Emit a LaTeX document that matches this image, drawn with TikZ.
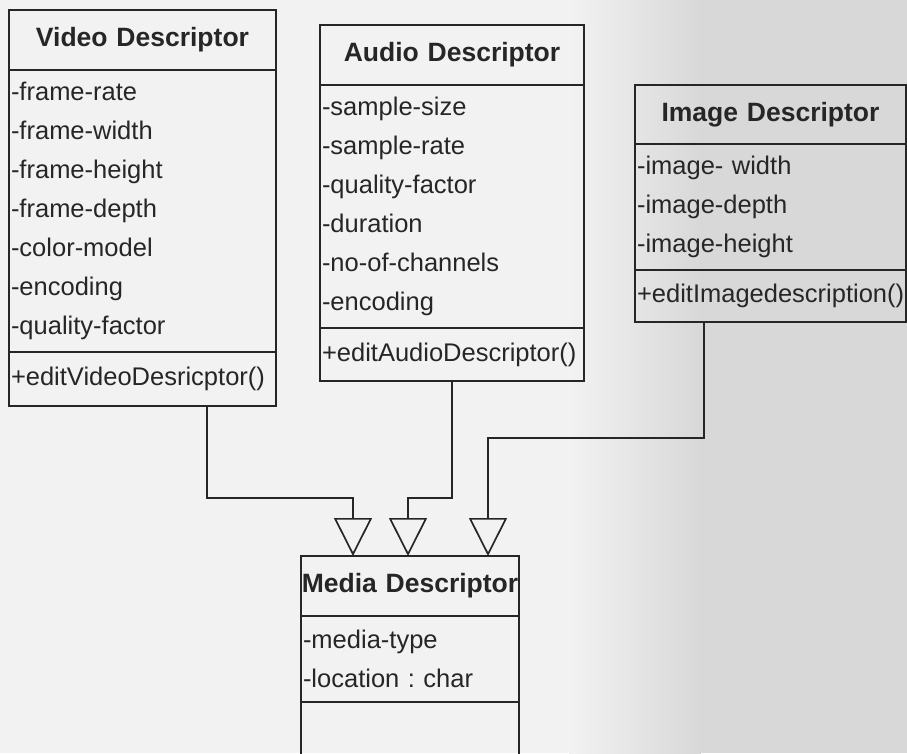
\documentclass[tikz,border=0pt]{standalone}
\usepackage{fontspec}
\setmainfont{Liberation Sans}
\frenchspacing
\hyphenpenalty=10000
\usetikzlibrary{positioning,arrows.meta}
\definecolor{ink}{HTML}{262626}
\definecolor{paperleft}{HTML}{F2F2F2}
\definecolor{paperright}{HTML}{D8D8D8}
\tikzset{
  part/.style={draw=ink, line width=1.7pt, text=ink, inner xsep=2pt, inner ysep=0pt, outer sep=0pt, anchor=north west},
  head/.style={part, align=center, font=\fontsize{26.5}{30}\selectfont\bfseries},
  list/.style={part, align=left, font=\fontsize{25.5}{39.1}\selectfont},
  inherit/.style={draw=ink, line width=1.7pt, -{Triangle[open, length=38pt, width=38pt]}}
}
\begin{document}
\begin{tikzpicture}[x=1pt, y=-1pt]
    % Paper
    \useasboundingbox (0,0) rectangle (907,753);
    \fill[paperleft] (0,0) rectangle (570,753);
    \shade[left color=paperleft, right color=paperright] (569,0) rectangle (701,753);
    \fill[paperright] (700,0) rectangle (907,753);

    % Video Descriptor
    \node[head, text width=263pt, minimum height=60pt] (vtitle) at (9,10) {Video Descriptor};
    \node[list, text width=263pt, minimum height=282pt, below=0pt of vtitle] (vattr)
        {-frame-rate\\-frame-width\\-frame-height\\-frame-depth\\-color-model\\-encoding\\-quality-factor};
    \node[list, text width=263pt, minimum height=54pt, below=0pt of vattr] (vmeth) {+editVideoDesricptor()};

    % Audio Descriptor
    \node[head, text width=260pt, minimum height=60pt] (atitle) at (320,25) {Audio Descriptor};
    \node[list, text width=260pt, minimum height=243pt, below=0pt of atitle] (aattr)
        {-sample-size\\-sample-rate\\-quality-factor\\-duration\\-no-of-channels\\-encoding};
    \node[list, text width=260pt, minimum height=53pt, below=0pt of aattr] (ameth) {+editAudioDescriptor()};

    % Image Descriptor
    \node[head, text width=267pt, minimum height=59pt] (ititle) at (635,85) {Image Descriptor};
    \node[list, text width=267pt, minimum height=126pt, below=0pt of ititle] (iattr)
        {-image- width\\-image-depth\\-image-height};
    \node[list, text width=267pt, minimum height=52pt, below=0pt of iattr] (imeth) {+editImagedescription()};

    % Media Descriptor
    \node[head, inner xsep=0pt, text width=218pt, minimum height=60pt] (mtitle) at (301,556) {Media Descriptor};
    \node[list, text width=214pt, minimum height=86pt, below=0pt of mtitle] (mattr)
        {-media-type\\-location : char};
    \node[list, text width=214pt, minimum height=80pt, below=0pt of mattr] (mmeth) {};

    % Generalisation
    \draw[inherit] ([xshift=64.5pt]vmeth.south) -- ++(0,92) -| ([xshift=-57pt]mtitle.north);
    \draw[inherit] (ameth.south) -- ++(0,117) -| ([xshift=-2pt]mtitle.north);
    \draw[inherit] ([xshift=-66.5pt]imeth.south) -- ++(0,116) -| ([xshift=78pt]mtitle.north);
\end{tikzpicture}
\end{document}
